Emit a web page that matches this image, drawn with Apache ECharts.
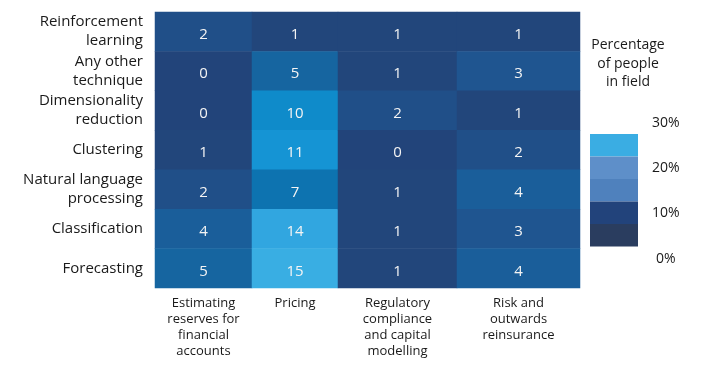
<!DOCTYPE html>
<html>
<head>
<meta charset="utf-8">
<script src="https://cdn.jsdelivr.net/npm/echarts@6/dist/echarts.min.js"></script>
<style>
html,body{margin:0;padding:0;background:#fff;}
#chart{width:709px;height:368px;}
</style>
</head>
<body>
<div id="chart"></div>
<script>
// ---- data ----
var techniques = [
  'Reinforcement\nlearning',
  'Any other\ntechnique',
  'Dimensionality\nreduction',
  'Clustering',
  'Natural language\nprocessing',
  'Classification',
  'Forecasting'
];
var fields = [
  'Estimating\nreserves for\nfinancial\naccounts',
  'Pricing',
  'Regulatory\ncompliance\nand capital\nmodelling',
  'Risk and\noutwards\nreinsurance'
];
var estimating = [2, 0, 0, 1, 2, 4, 5];
var pricing    = [1, 5, 10, 11, 7, 14, 15];
var regulatory = [1, 1, 2, 0, 1, 1, 1];
var risk       = [1, 3, 1, 2, 4, 3, 4];
var legendTicks = ['30%', '20%', '10%', '0%'];
var legendTitle = 'Percentage\nof people\nin field';

// ---- layout / style ----
var columns = [estimating, pricing, regulatory, risk];
var colLeft  = [155, 252, 338, 457];
var colWidth = [97, 86, 119, 123];
var gridTop = 12, gridHeight = 276;
var FONT = 'Open Sans';
var cellColors = ['#22447a','#22467b','#204f88','#1f5590','#1a5e9a','#1665a0','#126ca8','#0d73b0',
                  '#0e7bb8','#0f83c1','#0f8bca','#1594d4','#1f9ad9','#28a0dc','#31a6e0','#39aee3'];

var grids = [], xAxes = [], yAxes = [], series = [];
columns.forEach(function (vals, c) {
  grids.push({left: colLeft[c], width: colWidth[c], top: gridTop, height: gridHeight});
  xAxes.push({
    type: 'category', gridIndex: c, data: [fields[c]],
    axisLine: {show: false}, axisTick: {show: false}, splitLine: {show: false},
    axisLabel: {fontFamily: FONT, fontSize: 13, lineHeight: 16, color: '#1a1a1a', margin: 7, verticalAlign: 'top'}
  });
  yAxes.push({
    type: 'category', gridIndex: c, data: techniques, inverse: true,
    axisLine: {show: false}, axisTick: {show: false}, splitLine: {show: false},
    axisLabel: {show: c === 0, fontFamily: FONT, fontSize: 15, lineHeight: 19, color: '#1a1a1a', margin: 12, align: 'right'}
  });
  series.push({
    type: 'heatmap', xAxisIndex: c, yAxisIndex: c,
    data: vals.map(function (v, r) { return [0, r, v]; }),
    itemStyle: {borderWidth: 0},
    label: {show: true, color: '#f4f4f4', fontFamily: FONT, fontSize: 15, offset: [0, 3]},
    emphasis: {disabled: true}
  });
});

var chart = echarts.init(document.getElementById('chart'), null, {renderer: 'canvas'});
chart.setOption({
  animation: false,
  backgroundColor: '#ffffff',
  grid: grids,
  xAxis: xAxes,
  yAxis: yAxes,
  visualMap: [
    {
      type: 'continuous', show: false, seriesIndex: [0, 1, 2, 3],
      min: 0, max: 15, inRange: {color: cellColors}
    },
    {
      type: 'piecewise', seriesIndex: [], orient: 'vertical', align: 'left',
      left: 590, top: 134, padding: 0, itemWidth: 48, itemHeight: 22.5, itemGap: 0, textGap: 14,
      itemSymbol: 'rect', selectedMode: false,
      textStyle: {fontFamily: FONT, fontSize: 14, color: '#1a1a1a'},
      pieces: [
        {gte: 0,  lt: 6,   label: ' ',            color: '#2a3d5f'},
        {gte: 6,  lt: 12,  label: legendTicks[2], color: '#22437b'},
        {gte: 12, lt: 18,  label: ' ',            color: '#4f81bd'},
        {gte: 18, lt: 24,  label: legendTicks[1], color: '#5e8fc9'},
        {gte: 24, lte: 30, label: ' ',            color: '#3aade3'}
      ]
    }
  ],
  graphic: [
    {type: 'text', x: 628, y: 36, style: {text: legendTitle, textAlign: 'center', align: 'center', textVerticalAlign: 'top', verticalAlign: 'top', fontFamily: FONT, fontSize: 14, lineHeight: 18.5, fill: '#1a1a1a'}},
    {type: 'text', x: 652, y: 123, style: {text: legendTicks[0], textAlign: 'left', align: 'left', textVerticalAlign: 'middle', verticalAlign: 'middle', fontFamily: FONT, fontSize: 14, fill: '#1a1a1a'}},
    {type: 'text', x: 656, y: 259, style: {text: legendTicks[3], textAlign: 'left', align: 'left', textVerticalAlign: 'middle', verticalAlign: 'middle', fontFamily: FONT, fontSize: 14, fill: '#1a1a1a'}}
  ],
  series: series
});
</script>
</body>
</html>
